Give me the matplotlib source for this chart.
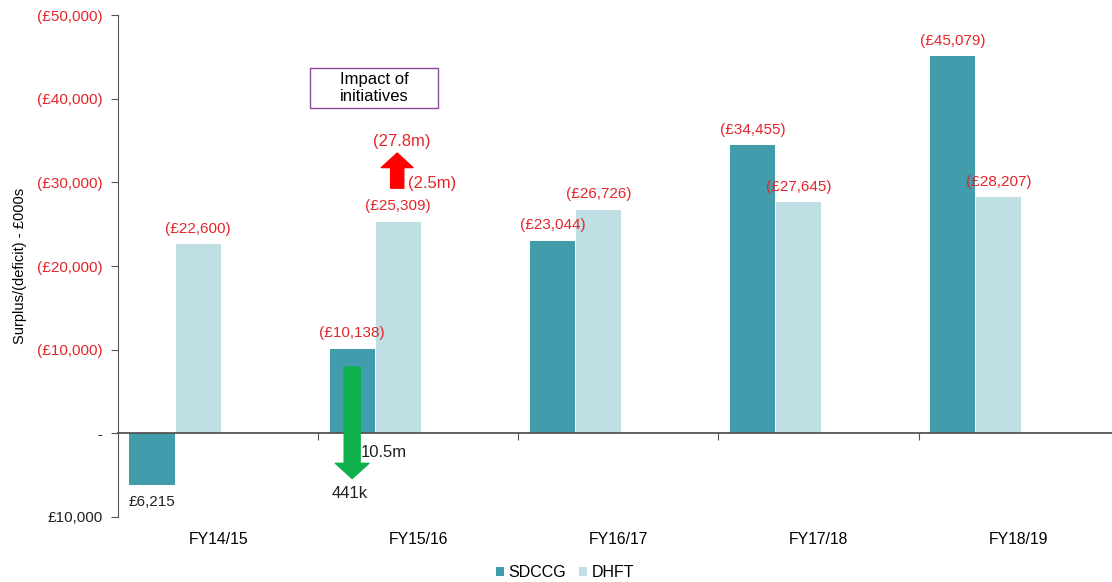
import matplotlib.pyplot as plt
from matplotlib.patches import Rectangle
import numpy as np

plt.rcParams['font.family'] = ['Liberation Sans', 'DejaVu Sans']

# data (deficit shown as positive, surplus negative)
years = ['FY14/15', 'FY15/16', 'FY16/17', 'FY17/18', 'FY18/19']
sdccg = [-6215, 10138, 23044, 34455, 45079]
dhft = [22600, 25309, 26726, 27645, 28207]
yticks = [-10000, 0, 10000, 20000, 30000, 40000, 50000]

red = '#e3262b'
teal = '#419cab'
light = '#c0dfe4'

def money(v):
    if v == 0:
        return '-'
    if v > 0:
        return '(£{:,})'.format(v)
    return '£{:,}'.format(-v)

fig = plt.figure(figsize=(11.12, 5.82), dpi=100)
ax = fig.add_axes([0.1061, 0.1117, 0.9, 0.8625])

x = np.arange(len(years))
w = 0.225
b1 = ax.bar(x - 0.33, sdccg, w, color=teal, label='SDCCG')
b2 = ax.bar(x - 0.10, dhft, w, color=light, label='DHFT')

for bars, vals in [(b1, sdccg), (b2, dhft)]:
    for r, v in zip(bars, vals):
        cx = r.get_x() + r.get_width() / 2
        if v >= 0:
            ax.annotate(money(v), (cx, v), xytext=(0, 6), textcoords='offset points',
                        ha='center', va='bottom', color=red, fontsize=11)
        else:
            ax.annotate(money(v), (cx, v), xytext=(0, -7), textcoords='offset points',
                        ha='center', va='top', color='#222222', fontsize=11)

ax.set_xlim(-0.5, 4.5)
ax.set_ylim(-10000, 50000)
ax.set_yticks(yticks)
ax.set_yticklabels([money(v) for v in yticks], fontsize=11)
for lab, v in zip(ax.get_yticklabels(), yticks):
    lab.set_color(red if v > 0 else '#222222')
ax.tick_params(axis='y', length=5, color='#555555', pad=6)

ax.spines['top'].set_visible(False)
ax.spines['right'].set_visible(False)
ax.spines['left'].set_color('#555555')
ax.spines['bottom'].set_position(('data', 0))
ax.spines['bottom'].set_color('#555555')
ax.spines['bottom'].set_linewidth(1.3)
ax.set_xticks(np.arange(0.5, 4.5, 1))
ax.set_xticklabels([])
ax.tick_params(axis='x', length=5, color='#555555', direction='out')

for i, yr in enumerate(years):
    ax.text(i, -0.03, yr, transform=ax.get_xaxis_transform(), ha='center', va='top', fontsize=11.3)

ax.set_ylabel('Surplus/(deficit) - £000s', fontsize=10.5)
ax.yaxis.set_label_coords(-0.091, 0.5)

# impact of initiatives annotations
ax.add_patch(Rectangle((0.46, 38900), 0.64, 4800, fc='white', ec='#8a4c9a', lw=1))
ax.text(0.78, 41300, 'Impact of\ninitiatives', ha='center', va='center', fontsize=12,
        linespacing=1.15)
ax.annotate('', xy=(0.895, 33500), xytext=(0.895, 29300),
            arrowprops=dict(arrowstyle='simple,head_length=1.1,head_width=2.4,tail_width=1',
                            mutation_scale=9.5, color='#ff0000', shrinkA=0, shrinkB=0))
ax.text(0.92, 34000, '(27.8m)', ha='center', va='bottom', color=red, fontsize=12)
ax.text(0.95, 29900, '(2.5m)', ha='left', va='center', color=red, fontsize=12)

ax.annotate('', xy=(0.67, -5400), xytext=(0.67, 7900),
            arrowprops=dict(arrowstyle='simple,head_length=0.95,head_width=2.1,tail_width=1',
                            mutation_scale=11.5, color='#0db04b', shrinkA=0, shrinkB=0))
ax.text(0.83, -2250, '10.5m', ha='center', va='center', color='#222222', fontsize=12)
ax.text(0.66, -7150, '441k', ha='center', va='center', color='#222222', fontsize=12)

fig.legend(handles=[b1, b2], loc='center', bbox_to_anchor=(0.508, 0.016), ncol=2,
           frameon=False, fontsize=11.5, handlelength=0.5, handleheight=0.5,
           handletextpad=0.3, columnspacing=0.8, borderpad=0.1)

fig.savefig('out.png', dpi=100)
